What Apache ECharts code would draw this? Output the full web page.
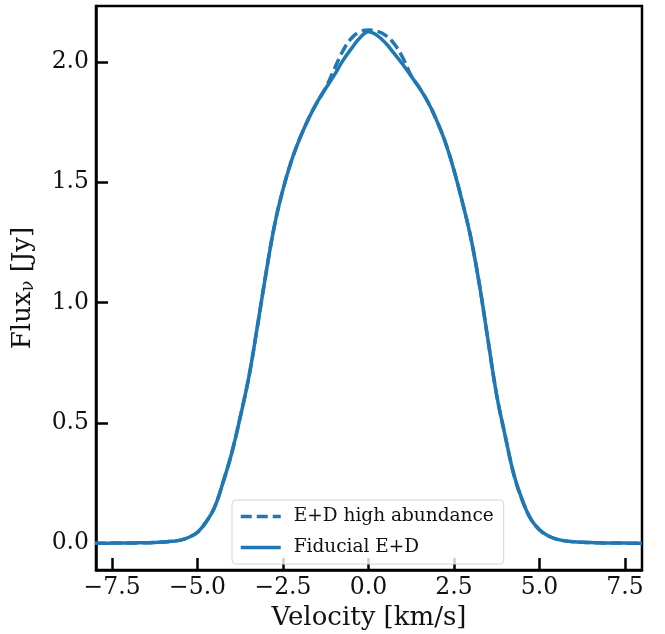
<!DOCTYPE html>
<html>
<head>
<meta charset="utf-8">
<script src="https://cdn.jsdelivr.net/npm/echarts@6/dist/echarts.min.js"></script>
<style>
html,body{margin:0;padding:0;background:#fff;}
#chart{width:665px;height:634px;}
</style>
</head>
<body>
<div id="chart"></div>
<script>
// Velocity grid (km/s)
const velocity = [-8.0,-7.75,-7.5,-7.25,-7.0,-6.75,-6.5,-6.25,-6.0,-5.75,-5.5,-5.25,-5.0,-4.75,-4.5,-4.25,-4.0,-3.75,-3.5,-3.25,-3.0,-2.75,-2.5,-2.25,-2.0,-1.75,-1.5,-1.25,-1.0,-0.75,-0.5,-0.25,0.0,0.25,0.5,0.75,1.0,1.25,1.5,1.75,2.0,2.25,2.5,2.75,3.0,3.25,3.5,3.75,4.0,4.25,4.5,4.75,5.0,5.25,5.5,5.75,6.0,6.25,6.5,6.75,7.0,7.25,7.5,7.75,8.0];
// Fiducial E+D flux (Jy)
const fiducial = [0.000,0.000,0.001,0.001,0.001,0.002,0.002,0.003,0.005,0.008,0.013,0.025,0.046,0.088,0.150,0.255,0.375,0.525,0.690,0.900,1.120,1.320,1.470,1.590,1.685,1.765,1.833,1.890,1.945,2.005,2.055,2.100,2.125,2.110,2.078,2.035,1.990,1.940,1.890,1.830,1.755,1.665,1.550,1.415,1.265,1.070,0.840,0.615,0.445,0.287,0.178,0.100,0.056,0.031,0.017,0.010,0.006,0.004,0.003,0.002,0.001,0.001,0.001,0.000,0.000];
// E+D high abundance flux (Jy)
const highAbundance = [0.000,0.000,0.001,0.001,0.001,0.002,0.002,0.003,0.005,0.008,0.013,0.025,0.046,0.088,0.150,0.255,0.375,0.525,0.690,0.900,1.120,1.320,1.470,1.590,1.685,1.765,1.833,1.893,1.970,2.045,2.098,2.125,2.132,2.127,2.110,2.075,2.018,1.942,1.890,1.830,1.755,1.665,1.550,1.415,1.265,1.070,0.840,0.615,0.445,0.287,0.178,0.100,0.056,0.031,0.017,0.010,0.006,0.004,0.003,0.002,0.001,0.001,0.001,0.000,0.000];
const xTicks = [-7.5,-5.0,-2.5,0.0,2.5,5.0,7.5];
const yTicks = [0.0,0.5,1.0,1.5,2.0];
const seriesNames = ['E+D high abundance','Fiducial E+D'];

const FONT = "'DejaVu Serif', serif";
const fmt = v => (v < 0 ? '\u2212' : '') + Math.abs(v).toFixed(1);
const pairs = arr => velocity.map((v,i) => [v, arr[i]]);
const C0 = '#1f77b4';

const chart = echarts.init(document.getElementById('chart'), null, {renderer:'canvas'});
chart.setOption({
  animation: false,
  backgroundColor: '#fff',
  grid: {left: 96, right: 23, top: 6, bottom: 64, show: true, borderColor: '#000', borderWidth: 2.5,
         backgroundColor: 'transparent', containLabel: false, outerBoundsMode: 'none'},
  legend: {
    orient: 'vertical', left: 232, top: 500,
    data: seriesNames,
    itemWidth: 40, itemHeight: 14, itemGap: 12,
    padding: [7, 10, 7, 7],
    itemStyle: {opacity: 0},
    lineStyle: {width: 3.5},
    backgroundColor: 'rgba(255,255,255,0.8)', borderColor: '#d4d4d4', borderWidth: 1, borderRadius: 4,
    textStyle: {fontFamily: FONT, fontSize: 18.5, color: '#111', padding: [0,0,0,8]}
  },
  xAxis: {
    type: 'value', min: -7.97, max: 8.0,
    name: 'Velocity [km/s]', nameLocation: 'middle', nameGap: 32,
    nameTextStyle: {fontFamily: FONT, fontSize: 26, color: '#111'},
    axisLine: {show: true, onZero: false, lineStyle: {color: '#000', width: 2.5}},
    axisTick: {show: true, inside: true, length: 12, lineStyle: {color: '#000', width: 2.5}, customValues: xTicks},
    axisLabel: {fontFamily: FONT, fontSize: 23.5, color: '#111', margin: 6, formatter: fmt, customValues: xTicks},
    splitLine: {show: false}
  },
  yAxis: {
    type: 'value', min: -0.111, max: 2.232,
    name: 'Flux{sub|\u03bd} [Jy]', nameLocation: 'middle', nameGap: 59,
    nameTextStyle: {fontFamily: FONT, fontSize: 26, color: '#111',
      rich: {sub: {fontFamily: FONT, fontSize: 18, color: '#111', padding: [10,0,0,0]}}},
    axisLine: {show: true, onZero: false, lineStyle: {color: '#000', width: 2.5}},
    axisTick: {show: true, inside: true, length: 12, lineStyle: {color: '#000', width: 2.5}, customValues: yTicks},
    axisLabel: {fontFamily: FONT, fontSize: 23.5, color: '#111', margin: 7, formatter: v => v.toFixed(1), customValues: yTicks},
    splitLine: {show: false}
  },
  series: [
    {name: seriesNames[0], type: 'line', data: pairs(highAbundance), showSymbol: false, symbol: 'none', smooth: 0.4,
     lineStyle: {color: C0, width: 3.5, type: [11, 5]}, itemStyle: {color: C0}},
    {name: seriesNames[1], type: 'line', data: pairs(fiducial), showSymbol: false, symbol: 'none', smooth: 0.4,
     lineStyle: {color: C0, width: 3.5}, itemStyle: {color: C0}}
  ]
});
</script>
</body>
</html>
